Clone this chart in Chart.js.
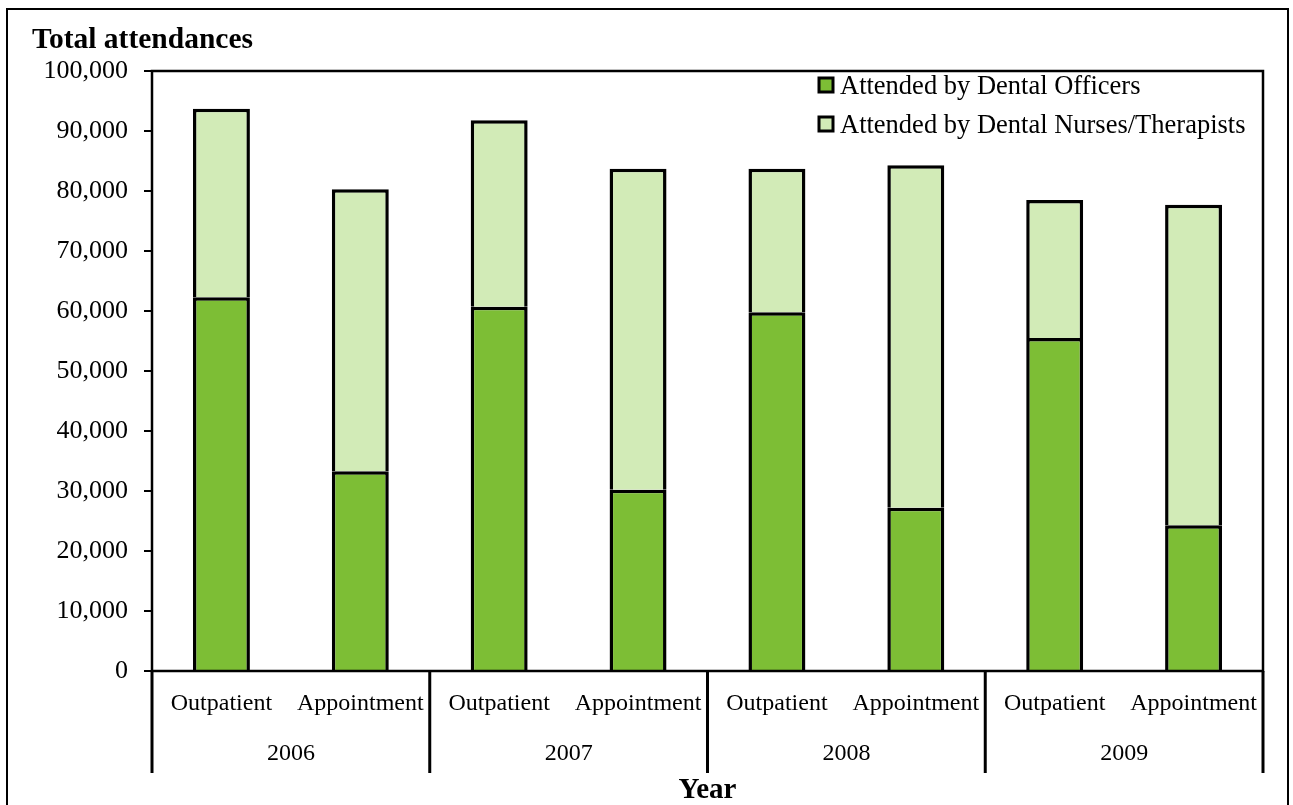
<!DOCTYPE html>
<html>
<head>
<meta charset="utf-8">
<title>Total attendances</title>
<script src="https://cdn.jsdelivr.net/npm/chart.js@4/dist/chart.umd.min.js"></script>
<style>
  html, body { margin: 0; padding: 0; background: #fff; }
  #wrap { position: relative; width: 1293px; height: 805px; overflow: hidden; }
  #frame { position: absolute; left: 6px; top: 8px; width: 1283px; height: 820px; border: 2px solid #000; box-sizing: border-box; pointer-events: none; }
  canvas { position: absolute; left: 0; top: 0; }
</style>
</head>
<body>
<div id="wrap">
  <canvas id="attChart" width="1293" height="805"></canvas>
  <div id="frame"></div>
</div>
<script>
/* Dental attendances by year and session type */
const categories = ['Outpatient', 'Appointment', 'Outpatient', 'Appointment',
                    'Outpatient', 'Appointment', 'Outpatient', 'Appointment'];
const years = ['2006', '2007', '2008', '2009'];
const officers = [62300, 33300, 60700, 30200, 59800, 27200, 55500, 24300];
const nurses   = [31400, 47000, 31100, 53500, 23900, 57100, 23000, 53400];
const yTicks = [0, 10000, 20000, 30000, 40000, 50000, 60000, 70000, 80000, 90000, 100000];

const SERIF = '"Liberation Serif", "Times New Roman", serif';

/* plot box, group separators, heading and legend */
const decor = {
  id: 'decor',
  afterDatasetsDraw(chart) {
    const { ctx, chartArea: a } = chart;
    const x2 = chart.scales.x2;
    ctx.save();
    ctx.strokeStyle = '#000';
    ctx.lineWidth = 2.5;
    ctx.strokeRect(a.left, a.top, a.right - a.left, a.bottom - a.top);

    // vertical separators between year groups, down through the label rows
    const edges = [a.left];
    for (let i = 0; i < years.length - 1; i++) {
      edges.push((x2.getPixelForValue(i) + x2.getPixelForValue(i + 1)) / 2);
    }
    edges.push(a.right);
    ctx.lineWidth = 3;
    edges.forEach(x => {
      ctx.beginPath();
      ctx.moveTo(x, a.bottom);
      ctx.lineTo(x, 773);
      ctx.stroke();
    });

    // heading above the value axis
    ctx.fillStyle = '#000';
    ctx.font = 'bold 29.5px ' + SERIF;
    ctx.textBaseline = 'alphabetic';
    ctx.textAlign = 'left';
    ctx.fillText('Total attendances', 32, 48);

    // legend, top right inside the plot
    ctx.font = '26.5px ' + SERIF;
    chart.data.datasets.forEach((ds, i) => {
      const y = 78 + i * 39;
      ctx.fillStyle = ds.backgroundColor;
      ctx.fillRect(819, y, 14, 14);
      ctx.lineWidth = 3;
      ctx.strokeStyle = '#000';
      ctx.strokeRect(819, y, 14, 14);
      ctx.fillStyle = '#000';
      ctx.fillText(ds.label, 840, y + 16);
    });
    ctx.restore();
  }
};

new Chart(document.getElementById('attChart'), {
  type: 'bar',
  data: {
    labels: categories,
    datasets: [
      {
        label: 'Attended by Dental Officers',
        data: officers,
        backgroundColor: '#7DBE35',
        borderColor: '#000',
        borderWidth: 3.5,
        barPercentage: 0.41,
        categoryPercentage: 1
      },
      {
        label: 'Attended by Dental Nurses/Therapists',
        data: nurses,
        backgroundColor: '#D2EBB7',
        borderColor: '#000',
        borderWidth: 3.5,
        barPercentage: 0.41,
        categoryPercentage: 1
      }
    ]
  },
  options: {
    responsive: false,
    animation: false,
    layout: { padding: { top: 71, right: 30, left: 0, bottom: 0 } },
    plugins: {
      legend: { display: false },
      tooltip: { enabled: false }
    },
    scales: {
      x: {
        stacked: true,
        offset: true,
        grid: { display: false },
        border: { display: false },
        ticks: {
          color: '#000',
          font: { family: SERIF, size: 24 },
          padding: 10,
          maxRotation: 0,
          autoSkip: false
        },
        afterFit: s => { s.height = 60; }
      },
      x2: {
        type: 'category',
        labels: years,
        position: 'bottom',
        offset: true,
        grid: { display: false },
        border: { display: false },
        ticks: {
          color: '#000',
          font: { family: SERIF, size: 24 },
          padding: 0
        },
        title: {
          display: true,
          text: 'Year',
          color: '#000',
          font: { family: SERIF, size: 29, weight: 'bold', lineHeight: 1 },
          padding: { top: 0, bottom: 0 }
        },
        afterFit: s => { s.height = 74; }
      },
      y: {
        stacked: true,
        min: 0,
        max: 100000,
        afterBuildTicks: s => { s.ticks = yTicks.map(v => ({ value: v })); },
        grid: {
          drawOnChartArea: false,
          drawTicks: true,
          tickLength: 8,
          color: '#000',
          lineWidth: 2
        },
        border: { display: false },
        ticks: {
          color: '#000',
          font: { family: SERIF, size: 26 },
          padding: 16,
          callback: v => v.toLocaleString('en-US')
        },
        afterFit: s => { s.width = 152; }
      }
    }
  },
  plugins: [decor]
});
</script>
</body>
</html>
